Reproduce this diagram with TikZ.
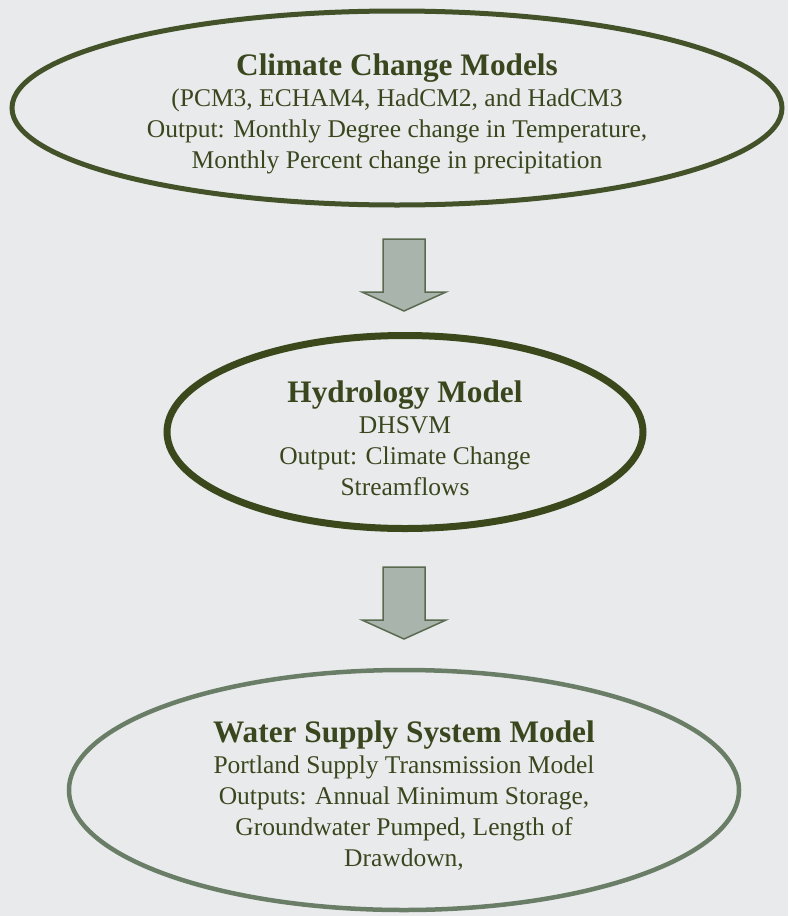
\documentclass[tikz,border=0pt]{standalone}
\usepackage{fontspec}
\setmainfont{Liberation Serif}
\usetikzlibrary{shapes.geometric}
\definecolor{paper}{HTML}{E9EAEC}
\definecolor{ink}{HTML}{3A471E}
\definecolor{ringdark}{HTML}{44522A}
\definecolor{ringdeep}{HTML}{3A481C}
\definecolor{ringpale}{HTML}{6A7D66}
\definecolor{arrowfill}{HTML}{A9B5AC}
\definecolor{arrowline}{HTML}{5A6A50}
\tikzset{
  model/.style={ellipse, fill=paper, inner sep=0pt},
  modeltext/.style={text=ink, align=center, inner sep=0pt, font=\fontsize{25.5}{31}\selectfont},
  downarrow/.style={fill=arrowfill, draw=arrowline, line width=1.5pt, line join=miter}
}
\newcommand{\modeltitle}[1]{{\bfseries\fontsize{31.3}{31}\selectfont #1}}

\begin{document}
\begin{tikzpicture}[x=1pt,y=-1pt]
\fill[paper] (0,0) rectangle (788,916);
\useasboundingbox (0,0) rectangle (788,916);

% the three models
\node[model, draw=ringdark, line width=5pt, minimum width=770pt, minimum height=194pt] (clim) at (397,108) {};
\node[modeltext, yshift=-6pt] (climtext) at (clim.center) {\modeltitle{Climate Change Models}\\
  (PCM3, ECHAM4, HadCM2, and HadCM3\\
  Output: Monthly Degree change in Temperature,\\
  Monthly Percent change in precipitation};

\node[model, draw=ringdeep, line width=7pt, minimum width=476pt, minimum height=193pt] (hydro) at (405,432) {};
\node[modeltext, yshift=-6pt] (hydrotext) at (hydro.center) {\modeltitle{Hydrology Model}\\
  DHSVM\\
  Output: Climate Change\\
  Streamflows};

\node[model, draw=ringpale, line width=4.5pt, minimum width=670pt, minimum height=240pt] (supply) at (404,790) {};
\node[modeltext, yshift=-6pt] (supplytext) at (supply.center) {\modeltitle{Water Supply System Model}\\
  Portland Supply Transmission Model\\
  Outputs: Annual Minimum Storage,\\
  Groundwater Pumped, Length of\\
  Drawdown,};

% block arrows between them
\coordinate (a1) at (404,239);
\coordinate (a2) at (404,567);
\foreach \a in {a1,a2}
  \draw[downarrow] (\a) ++(-21,0) -- ++(0,53) -- ++(-21,0) -- ++(42,19) -- ++(42,-19) -- ++(-21,0) -- ++(0,-53) -- cycle;
\end{tikzpicture}
\end{document}
